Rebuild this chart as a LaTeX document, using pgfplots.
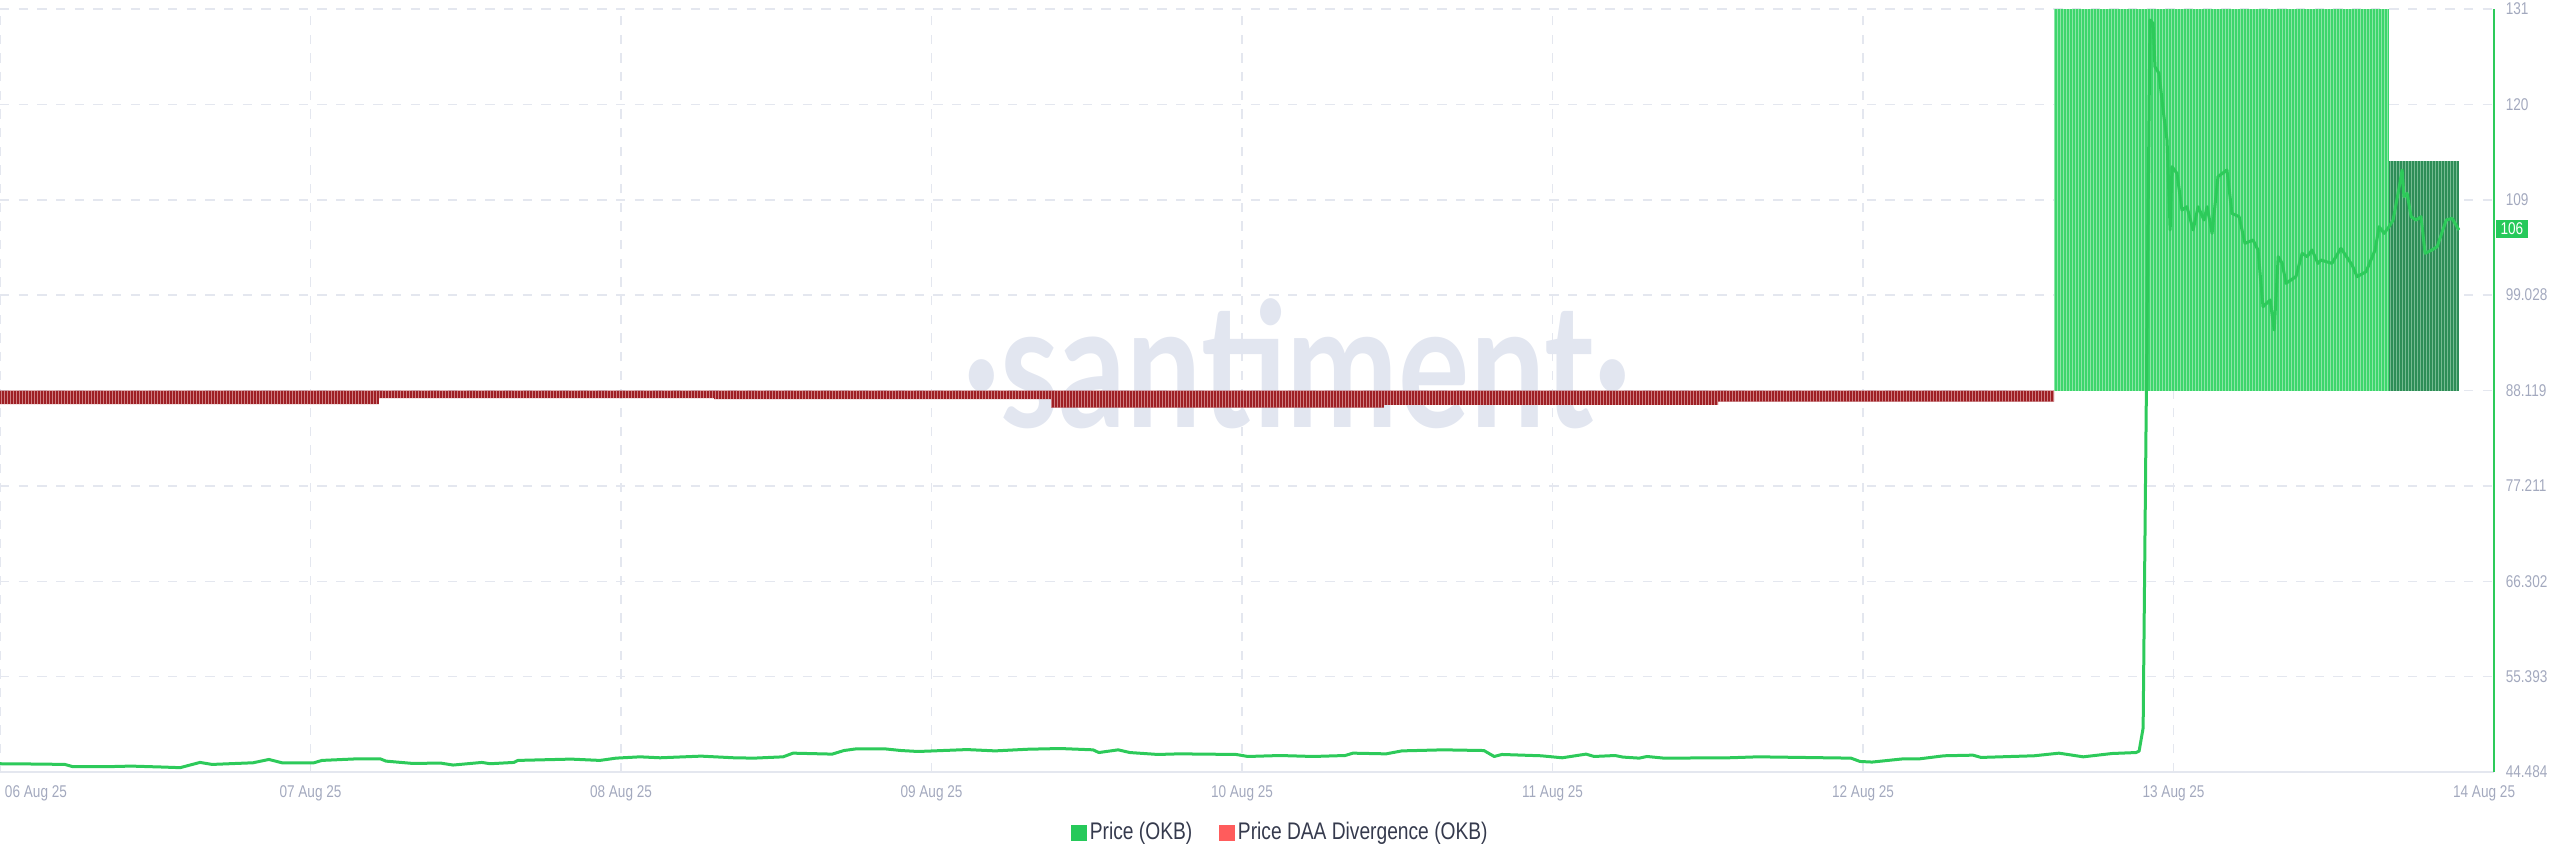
\documentclass[border=0pt]{standalone}
\usepackage{fontspec}
\setmainfont{Liberation Sans}[FakeStretch=0.8]
\newfontfamily\wmfont{Lato}[FakeStretch=0.77]
\usepackage{pgfplots}
\pgfplotsset{compat=1.18}
\usetikzlibrary{patterns.meta}
\tikzdeclarepattern{
  name=vstripes, type=uncolored,
  bounding box={(0pt,0pt) and (0.97pt,1pt)},
  tile size={(0.97pt,1pt)},
  code={\pgfsetlinewidth{0.22pt}
        \pgfpathmoveto{\pgfqpoint{0.485pt}{-0.2pt}}
        \pgfpathlineto{\pgfqpoint{0.485pt}{1.2pt}}
        \pgfusepath{stroke}}}
\definecolor{pricegreen}{HTML}{2DCA5A}
\definecolor{barred}{HTML}{9E1F24}
\definecolor{barredgap}{HTML}{E7B3B5}
\definecolor{bargreen}{HTML}{3DD66C}
\definecolor{bargreengap}{HTML}{B5F0C8}
\definecolor{bardkgreen}{HTML}{2E8D57}
\definecolor{bardkgreengap}{HTML}{9DD4B3}
\definecolor{gridc}{HTML}{E4E7EF}
\definecolor{tickc}{HTML}{A3A9BE}
\definecolor{legtext}{HTML}{353A4D}
\definecolor{legred}{HTML}{FF5C5C}
\definecolor{leggreen}{HTML}{26C95A}
\definecolor{wmc}{HTML}{E2E6F0}
\begin{document}
\begin{tikzpicture}
\path[use as bounding box] (0pt,-28.5pt) rectangle (768pt,231.6pt);
\begin{axis}[
  at={(0pt,0pt)}, anchor=south west,
  scale only axis, width=748.2pt, height=228.9pt,
  xmin=0, xmax=8.032, ymin=44.484, ymax=131.755,
  clip=false,
  axis x line*=bottom, axis y line*=right,
  axis line style={-},
  x axis line style={draw=gridc, line width=0.6pt},
  y axis line style={draw=pricegreen, line width=0.6pt},
  major tick length=0pt,
  xtick={0,1,2,3,4,5,6,7},
  xticklabels={\makebox[0pt][l]{\hspace{1.5pt}06 Aug 25},07 Aug 25,08 Aug 25,09 Aug 25,10 Aug 25,11 Aug 25,12 Aug 25,13 Aug 25},
  extra x ticks={8}, extra x tick labels={14 Aug 25},
  extra x tick style={grid=none},
  ytick={44.484,55.393,66.302,77.211,88.119,99.028,109.937,120.846,131.755},
  yticklabels={44.484,55.393,66.302,77.211,88.119,99.028,109,120,131},
  xticklabel style={font=\fontsize{5.1}{6}\selectfont, text=tickc, anchor=north, yshift=-0.6pt},
  yticklabel style={font=\fontsize{5.1}{6}\selectfont, text=tickc, anchor=west},
  grid=major,
  grid style={draw=gridc, line width=0.45pt, dash pattern=on 2.8pt off 2.8pt},
  legend style={at={(0.5136,-0.08)}, anchor=center, draw=none, fill=none,
    font=\fontsize{7.2}{8.5}\selectfont, text=legtext,
    nodes={inner sep=1pt},
    /tikz/every even column/.append style={column sep=7pt}},
  legend columns=2, legend cell align=left,
]
\node[font=\wmfont\bfseries\fontsize{52}{52}\selectfont, text=wmc, anchor=base, inner sep=0pt] at (rel axis cs:0.520,0.451) {·santiment·};

% Price DAA divergence (drawn in price units around the 88.119 level)
\addplot[draw=none, fill=barred, postaction={pattern=vstripes, pattern color=barredgap}, forget plot] coordinates {
 (0,88.119) (0,86.55) (1.22,86.55) (1.22,87.24) (2.30,87.24) (2.30,87.12)
 (3.385,87.12) (3.385,86.17) (4.457,86.17) (4.457,86.48) (5.533,86.48)
 (5.533,86.86) (6.615,86.86) (6.615,88.119)} -- cycle;
\addplot[draw=none, fill=bargreen, postaction={pattern=vstripes, pattern color=bargreengap}, forget plot] coordinates {
 (6.615,88.119) (6.615,131.755) (7.694,131.755) (7.694,88.119)} -- cycle;
\addplot[draw=none, fill=bardkgreen, postaction={pattern=vstripes, pattern color=bardkgreengap}, forget plot] coordinates {
 (7.694,88.119) (7.694,114.37) (7.919,114.37) (7.919,88.119)} -- cycle;

% Price (OKB)
\addplot[pricegreen, line width=0.9pt, line join=round, forget plot] coordinates {
(0,45.43) (0.132,45.39) (0.209,45.35) (0.235,45.09) (0.341,45.09) (0.422,45.16)
(0.525,45.05) (0.580,44.98) (0.644,45.58) (0.683,45.35) (0.815,45.54) (0.866,45.92)
(0.908,45.54) (1.011,45.54) (1.037,45.81) (1.156,46.00) (1.224,46.00) (1.243,45.73)
(1.327,45.47) (1.420,45.50) (1.459,45.28) (1.552,45.58) (1.578,45.43) (1.655,45.58)
(1.668,45.81) (1.839,45.96) (1.932,45.81) (1.984,46.07) (2.061,46.22)
(2.126,46.11) (2.258,46.30) (2.364,46.11) (2.428,46.07) (2.522,46.22) (2.554,46.64)
(2.680,46.53) (2.718,46.94) (2.757,47.13) (2.850,47.13) (2.902,46.94) (2.957,46.83)
(3.114,47.05) (3.205,46.90) (3.311,47.09) (3.414,47.17) (3.520,47.02) (3.539,46.71)
(3.601,47.02) (3.639,46.71) (3.729,46.49) (3.797,46.56) (3.981,46.49) (4.019,46.26)
(4.122,46.37) (4.229,46.26) (4.332,46.37) (4.357,46.64) (4.464,46.56) (4.515,46.90)
(4.647,47.02) (4.779,46.94) (4.812,46.26) (4.837,46.49) (4.963,46.34) (5.031,46.11)
(5.108,46.53) (5.134,46.26) (5.201,46.37) (5.227,46.19) (5.279,46.07) (5.304,46.26)
(5.359,46.07) (5.568,46.11) (5.662,46.22) (5.961,46.07) (5.990,45.69) (6.029,45.62)
(6.132,46.00) (6.184,46.00) (6.261,46.34) (6.354,46.41) (6.380,46.15) (6.551,46.34)
(6.631,46.64) (6.709,46.22) (6.802,46.60) (6.879,46.71) (6.889,46.87) (6.902,49.52)
(6.924,130.50) (6.934,130.12) (6.940,125.16) (6.953,124.40) (6.969,119.44) (6.979,116.77)
(6.989,106.48) (6.995,113.72) (7.011,112.96) (7.027,108.76) (7.043,109.14) (7.063,106.48)
(7.079,109.14) (7.098,107.62) (7.108,109.14) (7.124,106.09) (7.143,112.58) (7.172,113.34)
(7.188,108.38) (7.211,108.00) (7.230,104.95) (7.256,105.33) (7.272,104.19) (7.288,97.71)
(7.311,98.47) (7.324,95.04) (7.337,103.43) (7.350,102.66) (7.362,100.38) (7.394,101.14)
(7.414,103.81) (7.430,103.43) (7.446,104.19) (7.465,102.66) (7.475,103.04) (7.510,102.66)
(7.539,104.38) (7.575,102.47) (7.591,101.14) (7.620,101.71) (7.649,104.19) (7.662,106.86)
(7.678,106.09) (7.694,106.86) (7.707,107.62) (7.723,110.67) (7.736,113.34) (7.742,110.29)
(7.752,110.67) (7.765,108.00) (7.781,107.62) (7.797,108.00) (7.810,103.81) (7.832,104.19)
(7.849,104.57) (7.878,107.62) (7.897,107.81) (7.919,106.48)
};

\node[fill=leggreen, text=white, font=\fontsize{5.1}{6}\selectfont, anchor=west,
      inner xsep=1.45pt, inner ysep=0.9pt, xshift=0.3pt] at (axis cs:8.032,106.59) {106};

\addlegendimage{legend image code/.code={\fill[leggreen] (0pt,-2.15pt) rectangle (4.3pt,2.15pt);}}
\addlegendentry{Price (OKB)}
\addlegendimage{legend image code/.code={\fill[legred] (0pt,-2.15pt) rectangle (4.3pt,2.15pt);}}
\addlegendentry{Price DAA Divergence (OKB)}
\end{axis}
\end{tikzpicture}
\end{document}
